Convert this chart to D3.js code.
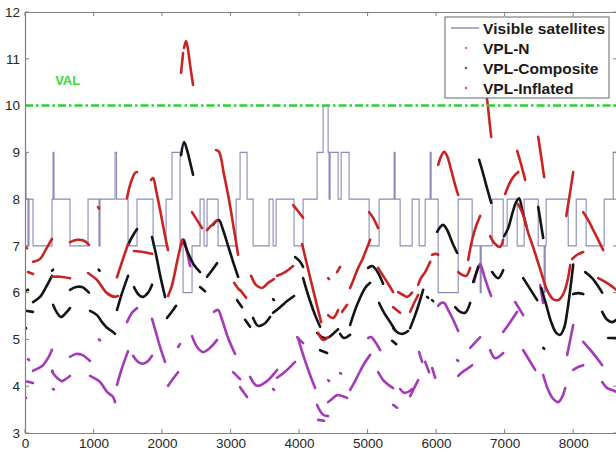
<!DOCTYPE html>
<html><head><meta charset="utf-8">
<script src="https://cdn.jsdelivr.net/npm/d3@7"></script>
<style>
html,body{margin:0;padding:0;background:#fff;}
svg{display:block;font-family:"Liberation Sans",Arial,sans-serif;}
</style></head>
<body>
<svg id="chart" width="616" height="459"></svg>
<script>
// ---------------- data ----------------
const xTicks = [0,1000,2000,3000,4000,5000,6000,7000,8000];
const yTicks = [3,4,5,6,7,8,9,10,11,12];
const valLevel = 10;
const legendLabels = ["Visible satellites","VPL-N","VPL-Composite","VPL-Inflated"];

// visible satellites: [time, count] change points (step-after)
const satellites = [[0,9],[15,8],[44,7],[58,8],[117,7],[394,8],[409,9],[423,8],[657,7],[920,8],[1080,7],[1095,8],[1314,9],[1336,8],[1504,7],[1635,8],[1869,7],[2059,8],[2146,9],[2263,7],[2307,6],[2438,7],[2555,8],[2613,7],[2657,8],[2818,7],[3081,8],[3139,9],[3241,8],[3329,7],[3562,8],[3621,7],[3665,8],[3927,7],[4059,8],[4263,9],[4351,10],[4424,9],[4438,8],[4453,9],[4570,8],[4614,9],[4730,8],[5022,7],[5168,8],[5387,9],[5402,8],[5475,7],[5650,8],[5752,7],[5840,8],[5913,9],[5927,8],[6030,6],[6322,8],[6526,7],[6643,6],[6658,7],[6818,8],[6979,7],[7037,8],[7183,7],[7285,8],[7490,7],[7577,6],[7592,7],[7606,8],[7928,7],[8045,8],[8190,7],[8453,8],[8585,9],[8640,9]];

// VPL-Composite (black) segments
const vplComposite = [
 [[0,6.04],[44,6.06]],
 [[0,5.22],[15,5.24]],
 [[30,5.61],[117,5.59]],
 [[117,5.80],[219,5.91],[307,6.12],[394,6.36]],
 [[394,6.47],[410,6.49]],
 [[409,5.74],[467,5.57],[526,5.48],[599,5.57],[657,5.67]],
 [[657,6.06],[745,6.12],[832,6.12],[934,6.0]],
 [[949,5.61],[1051,5.52],[1124,5.37],[1197,5.25],[1285,5.16],[1314,5.12]],
 [[1075,6.49],[1090,6.47]],
 [[1343,5.63],[1416,5.99],[1504,6.36]],
 [[1504,7.02],[1562,7.19],[1635,7.36]],
 [[1591,6.12],[1664,5.95],[1723,5.91],[1796,6.0],[1854,6.17]],
 [[1854,7.19],[1913,6.81],[1971,6.38],[2044,5.91]],
 [[2073,5.46],[2132,5.57],[2205,5.72]],
 [[2278,8.94],[2322,9.22],[2365,9.05],[2409,8.79],[2453,8.52]],
 [[2307,7.13],[2380,6.85],[2467,6.59],[2555,6.44]],
 [[2555,6.12],[2628,6.03]],
 [[2657,6.34],[2730,6.48],[2803,6.63]],
 [[2745,7.45],[2789,7.53],[2832,7.55],[2891,7.34],[2964,7.0],[3037,6.66],[3110,6.34]],
 [[3095,5.84],[3168,5.69]],
 [[3212,5.42],[3285,5.27]],
 [[3329,5.46],[3402,5.29],[3489,5.33],[3577,5.48]],
 [[3621,5.86],[3635,5.84]],
 [[3621,5.57],[3723,5.69],[3825,5.82],[3927,5.93]],
 [[3942,6.76],[4015,6.66],[4059,6.55]],
 [[4059,6.31],[4132,5.95],[4234,5.52],[4307,5.27]],
 [[4263,5.14],[4336,5.05],[4409,5.03],[4497,5.12],[4570,5.22]],
 [[4307,4.77],[4409,4.71]],
 [[4599,5.12],[4657,5.03],[4745,5.10]],
 [[4745,5.31],[4847,5.74],[4964,6.10],[5037,6.21]],
 [[5008,6.53],[5066,6.57],[5139,6.46],[5227,6.19]],
 [[5168,5.78],[5241,5.57],[5329,5.37],[5402,5.20]],
 [[5373,5.24],[5446,5.14],[5519,5.12],[5592,5.18]],
 [[5621,5.24],[5679,5.46],[5738,5.71],[5811,6.06]],
 [[5358,4.97],[5417,4.90]],
 [[5869,5.91],[5884,5.89]],
 [[5942,5.84],[5957,5.82]],
 [[6015,7.30],[6059,7.40],[6103,7.45],[6161,7.34],[6234,7.08],[6307,6.85]],
 [[6278,5.69],[6351,5.59],[6424,5.57],[6497,5.78]],
 [[6541,6.23],[6614,6.55]],
 [[6628,8.84],[6672,8.62],[6731,8.30],[6804,7.92]],
 [[6818,6.44],[6906,6.31],[6979,6.48]],
 [[6993,7.21],[7052,7.38],[7110,7.68],[7169,7.94],[7212,8.02],[7256,7.77],[7315,7.43]],
 [[7490,7.83],[7563,7.17]],
 [[7271,6.31],[7475,5.84]],
 [[7534,6.10],[7607,5.74],[7680,5.37],[7753,5.14],[7811,5.10],[7869,5.25],[7913,5.59],[7957,6.06],[8001,6.60]],
 [[8001,5.97],[8074,5.99],[8147,5.97]],
 [[8176,6.44],[8278,6.31],[8424,6.0]],
 [[8424,5.59],[8497,5.42],[8570,5.37],[8629,5.42]],
 [[8512,5.03],[8629,5.03]],
 [[7563,4.82],[7577,4.80]]
];

// VPL-N (purple) segments
const vplN = [
 [[0,3.77],[15,3.75]],
 [[44,4.58],[58,4.56]],
 [[29,4.10],[117,4.07]],
 [[117,4.33],[248,4.43],[336,4.60],[394,4.78]],
 [[394,4.33],[409,4.32]],
 [[409,3.94],[423,3.93]],
 [[394,4.31],[467,4.18],[540,4.11],[599,4.16],[657,4.22]],
 [[657,4.63],[745,4.69],[832,4.67],[949,4.54]],
 [[949,4.22],[1095,4.09],[1197,3.88],[1285,3.77],[1314,3.66]],
 [[1080,5.0],[1095,4.98]],
 [[1343,4.03],[1416,4.39],[1504,4.75]],
 [[1489,5.37],[1562,5.57],[1635,5.67]],
 [[1577,4.65],[1650,4.52],[1723,4.48],[1796,4.54],[1854,4.65]],
 [[1854,5.44],[1913,5.14],[1971,4.84],[2044,4.52]],
 [[2088,4.01],[2161,4.16],[2234,4.30]],
 [[2234,4.84],[2263,4.90]],
 [[2292,7.04],[2321,7.13],[2365,6.87],[2409,6.57]],
 [[2438,5.07],[2511,4.84],[2599,4.73],[2701,4.82],[2803,4.99]],
 [[2759,5.59],[2818,5.63],[2876,5.42],[2964,5.03],[3066,4.69]],
 [[3037,4.30],[3139,4.15]],
 [[3139,3.98],[3241,3.77]],
 [[3285,4.20],[3387,4.01],[3533,4.11],[3679,4.35]],
 [[3621,3.94],[3635,3.92]],
 [[3679,4.18],[3796,4.31],[3942,4.52]],
 [[3971,5.05],[4059,4.92]],
 [[3986,5.03],[4059,4.67],[4146,4.30],[4234,3.96]],
 [[4263,3.60],[4307,3.47],[4351,3.39],[4424,3.36]],
 [[4278,3.28],[4365,3.26]],
 [[4424,3.66],[4497,3.75],[4555,3.81],[4628,3.79],[4701,3.75]],
 [[4424,4.13],[4438,4.11]],
 [[4599,4.28],[4614,4.27]],
 [[4745,3.92],[4803,4.07],[4862,4.24],[4949,4.48],[5037,4.67]],
 [[5008,5.03],[5052,5.05],[5110,4.95],[5183,4.77]],
 [[5154,4.30],[5227,4.13],[5285,4.05],[5373,3.96]],
 [[5475,3.94],[5533,3.86],[5592,3.88],[5650,3.94]],
 [[5373,3.60],[5431,3.54]],
 [[5621,3.79],[5679,3.96],[5738,4.13]],
 [[5752,4.73],[5796,4.52]],
 [[5840,4.52],[5898,4.30]],
 [[5942,4.39],[5986,4.18]],
 [[6030,5.72],[6074,5.78],[6118,5.78],[6176,5.63],[6249,5.42],[6322,5.18]],
 [[6307,4.56],[6322,4.54]],
 [[6322,4.22],[6380,4.30],[6453,4.37],[6526,4.45]],
 [[6497,4.82],[6643,5.05]],
 [[6555,6.23],[6599,6.46],[6643,6.61],[6701,6.36],[6760,6.10],[6804,5.93]],
 [[6789,4.77],[6862,4.60],[6979,4.71]],
 [[6979,5.16],[7081,5.37],[7183,5.59]],
 [[7154,5.80],[7271,5.52]],
 [[7271,4.77],[7358,4.56],[7446,4.35]],
 [[7519,6.16],[7563,5.78]],
 [[7563,4.24],[7636,3.92],[7709,3.73],[7782,3.66],[7840,3.77],[7884,3.96]],
 [[7913,4.67],[7957,4.99],[8001,5.31]],
 [[8001,4.35],[8074,4.41],[8147,4.45]],
 [[8147,4.95],[8278,4.73],[8424,4.45]],
 [[8424,4.09],[8497,3.96],[8570,3.92],[8629,3.88]]
];

// VPL-Inflated (red) segments
const vplInflated = [
 [[0,7.0],[29,6.95]],
 [[44,6.44],[117,6.40]],
 [[117,6.66],[219,6.72],[307,6.93],[394,7.15]],
 [[394,6.34],[511,6.34],[657,6.31]],
 [[657,7.08],[759,7.13],[861,7.11],[934,7.02]],
 [[920,6.42],[1051,6.27],[1197,5.99],[1314,5.91],[1358,5.93]],
 [[1066,7.83],[1080,7.80]],
 [[1343,6.33],[1416,6.66],[1504,7.04]],
 [[1489,8.02],[1533,8.30],[1606,8.56],[1635,8.58]],
 [[1591,6.89],[1723,6.87],[1854,6.83]],
 [[1840,8.41],[1869,8.45],[1913,8.19],[1971,7.77],[2044,7.21],[2088,6.91]],
 [[2088,5.93],[2146,6.16],[2219,6.66],[2292,7.13]],
 [[2278,10.70],[2307,11.12]],
 [[2321,11.23],[2351,11.38],[2380,11.19],[2409,10.87],[2453,10.44]],
 [[2438,7.72],[2511,7.55],[2584,7.38]],
 [[2657,7.34],[2730,7.45],[2803,7.55]],
 [[2789,9.05],[2832,9.01],[2905,8.52],[2978,7.98],[3051,7.34],[3110,6.81]],
 [[3051,6.21],[3124,6.06]],
 [[3139,6.06],[3227,5.89]],
 [[3300,6.36],[3373,6.16],[3460,6.10],[3548,6.21],[3635,6.29]],
 [[3679,6.36],[3796,6.44],[3913,6.57]],
 [[3913,7.87],[3986,7.74],[4059,7.60]],
 [[4044,7.04],[4117,6.59],[4205,6.06],[4278,5.63],[4322,5.37]],
 [[4278,5.14],[4351,4.99],[4424,5.05]],
 [[4424,5.52],[4497,5.46],[4570,5.63]],
 [[4628,5.59],[4701,5.74]],
 [[4424,6.31],[4438,6.29]],
 [[4555,6.44],[4599,6.55]],
 [[4745,6.10],[4803,6.31],[4862,6.53],[4920,6.70],[4979,6.91],[5037,7.13]],
 [[5022,7.72],[5081,7.60],[5154,7.38]],
 [[5154,6.53],[5227,6.36],[5300,6.19],[5373,6.01]],
 [[5446,6.01],[5519,5.95],[5577,5.91],[5650,6.0]],
 [[5373,5.69],[5475,5.57]],
 [[5621,5.59],[5679,5.78],[5738,5.95]],
 [[5738,6.17],[5782,6.32],[5840,6.44],[5913,6.66]],
 [[5942,6.81],[6001,6.83],[6030,6.81]],
 [[6030,8.73],[6074,8.92],[6118,9.01],[6161,8.92],[6220,8.62],[6278,8.30],[6322,8.09]],
 [[6322,6.44],[6380,6.38],[6439,6.36],[6497,6.53]],
 [[6468,6.70],[6526,7.13],[6585,7.43],[6643,7.64]],
 [[6701,10.57],[6745,10.12],[6774,9.73],[6804,9.33]],
 [[6789,7.21],[6862,7.04],[6935,6.98],[6979,7.13]],
 [[7008,8.11],[7066,8.32],[7125,8.47],[7198,8.58]],
 [[7183,9.03],[7242,8.73],[7300,8.41]],
 [[7490,9.33],[7534,8.90],[7577,8.47]],
 [[7198,7.89],[7271,7.66],[7344,7.28],[7417,6.97],[7519,6.50],[7621,6.05],[7709,5.86],[7782,5.84],[7855,5.97],[7913,6.23],[7957,6.59]],
 [[7899,7.64],[7942,8.02],[8001,8.58]],
 [[7986,6.72],[8059,6.81],[8147,6.87]],
 [[8147,7.72],[8220,7.55],[8293,7.34],[8366,7.13],[8439,6.91]],
 [[8366,6.31],[8468,6.23],[8541,6.16],[8629,6.06]]
];

// ---------------- drawing ----------------
const svg = d3.select("#chart");
const W = 616, H = 459;
const m = {l:25, t:12, r:617, b:433};
const x = d3.scaleLinear().domain([0,8640]).range([m.l, m.r]);
const y = d3.scaleLinear().domain([3,12]).range([m.b, m.t]);

const axisColor = "#808080";
const textColor = "#262626";
const fontFam = '"Liberation Sans",Arial,sans-serif';

svg.append("rect").attr("x",0).attr("y",0).attr("width",W).attr("height",H).attr("fill","#fff");

svg.append("clipPath").attr("id","clip").append("rect")
  .attr("x",m.l).attr("y",m.t).attr("width",m.r-m.l).attr("height",m.b-m.t);
const plot = svg.append("g").attr("clip-path","url(#clip)");

// satellites step line
const stepLine = d3.line().x(d=>x(d[0])).y(d=>y(d[1])).curve(d3.curveStepAfter);
plot.append("path").datum(satellites)
  .attr("d", stepLine).attr("fill","none")
  .attr("stroke","#8a8ab8").attr("stroke-width",1.1);

const smooth = d3.line().x(d=>x(d[0])).y(d=>y(d[1])).curve(d3.curveCatmullRom.alpha(0.5));
function drawSeries(data, color, w){
  plot.append("g").selectAll("path").data(data).join("path")
    .attr("d", smooth).attr("fill","none")
    .attr("stroke", color).attr("stroke-width", w)
    .attr("stroke-linecap","round").attr("stroke-linejoin","round");
}
drawSeries(vplN, "#a43ab8", 2.6);
drawSeries(vplComposite, "#141414", 2.6);
drawSeries(vplInflated, "#c92323", 2.6);

// VAL line
plot.append("line")
  .attr("x1", m.l).attr("x2", m.r).attr("y1", y(valLevel)).attr("y2", y(valLevel))
  .attr("stroke","#2fd02f").attr("stroke-width",2.6)
  .attr("stroke-dasharray","8,3,2.5,3");
svg.append("text").attr("x", x(440)).attr("y", y(10.43)).attr("fill","#3ad83a")
  .attr("font-size",13).attr("font-weight","bold").attr("font-family",fontFam).text("VAL");

// axes
const gx = svg.append("g").attr("transform",`translate(0,${m.b})`)
  .call(d3.axisBottom(x).tickValues(xTicks).tickSize(0).tickPadding(5).tickFormat(d3.format("d")));
const gxTop = svg.append("g").attr("transform",`translate(0,${m.t})`)
  .call(d3.axisTop(x).tickValues(xTicks).tickSize(0).tickFormat(""));
const gy = svg.append("g").attr("transform",`translate(${m.l},0)`)
  .call(d3.axisLeft(y).tickValues(yTicks).tickSize(0).tickPadding(5).tickFormat(d3.format("d")));
const gyR = svg.append("g").attr("transform",`translate(${m.r},0)`)
  .call(d3.axisRight(y).tickValues(yTicks).tickSize(0).tickFormat(""));
[gx,gxTop,gy,gyR].forEach(g=>{
  g.select(".domain").attr("stroke",axisColor).attr("stroke-width",1.2);
  g.selectAll("text").attr("fill",textColor).attr("font-size",13.5).attr("font-family",fontFam);
});
const tl = 4;
svg.append("g").selectAll("line").data(xTicks).join("line")
  .attr("x1",d=>x(d)).attr("x2",d=>x(d)).attr("y1",m.b).attr("y2",m.b-tl).attr("stroke",axisColor);
svg.append("g").selectAll("line").data(xTicks).join("line")
  .attr("x1",d=>x(d)).attr("x2",d=>x(d)).attr("y1",m.t).attr("y2",m.t+tl).attr("stroke",axisColor);
svg.append("g").selectAll("line").data(yTicks).join("line")
  .attr("x1",m.l).attr("x2",m.l+tl).attr("y1",d=>y(d)).attr("y2",d=>y(d)).attr("stroke",axisColor);
svg.append("g").selectAll("line").data(yTicks).join("line")
  .attr("x1",m.r).attr("x2",m.r-tl).attr("y1",d=>y(d)).attr("y2",d=>y(d)).attr("stroke",axisColor);

// legend
const lg = svg.append("g").attr("transform","translate(445,17)");
lg.append("rect").attr("x",0).attr("y",0).attr("width",164).attr("height",81)
  .attr("fill","#fff").attr("stroke","#666").attr("stroke-width",1);
const legendColors = ["#7a7aa8","#d07070","#555555","#d05050"];
legendLabels.forEach((lab,i)=>{
  const cy = 11 + i*20;
  if(i===0){
    lg.append("line").attr("x1",6).attr("x2",34).attr("y1",cy).attr("y2",cy)
      .attr("stroke","#6a6a9a").attr("stroke-width",1.1);
  } else {
    lg.append("circle").attr("cx",21).attr("cy",cy).attr("r",1.2).attr("fill",legendColors[i]);
  }
  lg.append("text").attr("x",38).attr("y",cy+5.5).attr("fill","#1a1a1a")
    .attr("font-size",15.5).attr("font-weight","bold").attr("font-family",fontFam)
    .attr("textLength", i===0 ? 122 : null)
    .text(lab);
});
</script>
</body></html>
